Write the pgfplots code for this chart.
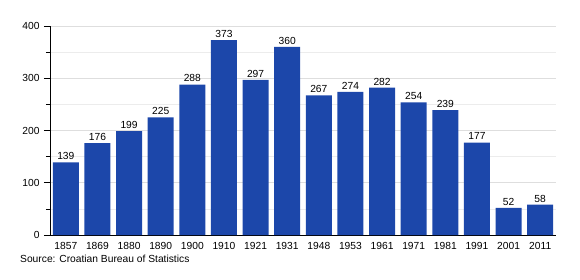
\documentclass[border=0pt]{standalone}
\usepackage{pgfplots}
\pgfplotsset{compat=1.18}
\usepackage{fontspec}
\setmainfont{Liberation Sans}
\definecolor{barblue}{RGB}{28,71,170}
\definecolor{gridmaj}{RGB}{222,222,222}
\definecolor{gridmin}{RGB}{236,236,236}
\begin{document}
\begin{tikzpicture}
\useasboundingbox (0,0) rectangle (580bp,280bp);
\begin{axis}[
  at={(50bp,45bp)}, anchor=south west,
  scale only axis, width=506bp, height=209bp,
  xmin=-0.5, xmax=15.5, ymin=0, ymax=400,
  axis lines*=left,
  axis line style={black, line width=0.8pt, -},
  xtick=data,
  xticklabels={1857,1869,1880,1890,1900,1910,1921,1931,1948,1953,1961,1971,1981,1991,2001,2011},
  x tick style={draw=none},
  ytick={0,100,200,300,400},
  minor ytick={50,150,250,350},
  y tick style={black, line width=0.6pt},
  tick align=outside,
  major tick length=6bp, minor tick length=4bp,
  ymajorgrids, yminorgrids,
  major grid style={gridmaj, line width=0.6pt},
  minor grid style={gridmin, line width=0.6pt},
  tick label style={font=\fontsize{10.3}{12}\selectfont},
  /pgf/number format/assume math mode=true,
  yticklabel style={xshift=-1bp},
  xticklabel style={yshift=2bp},
  nodes near coords,
  every node near coord/.append style={font=\fontsize{10.3}{12}\selectfont, black, yshift=-1bp},
  enlarge x limits=false,
  clip=false,
]
\addplot[ybar, bar width=26bp, fill=barblue, draw=none] coordinates {
(0,139) (1,176) (2,199) (3,225) (4,288) (5,373) (6,297) (7,360)
(8,267) (9,274) (10,282) (11,254) (12,239) (13,177) (14,52) (15,58)
};
\end{axis}
\node[anchor=base west, font=\fontsize{10.3}{12}\selectfont, inner sep=0pt] at (20bp,18bp) {Source: Croatian Bureau of Statistics};
\end{tikzpicture}
\end{document}
